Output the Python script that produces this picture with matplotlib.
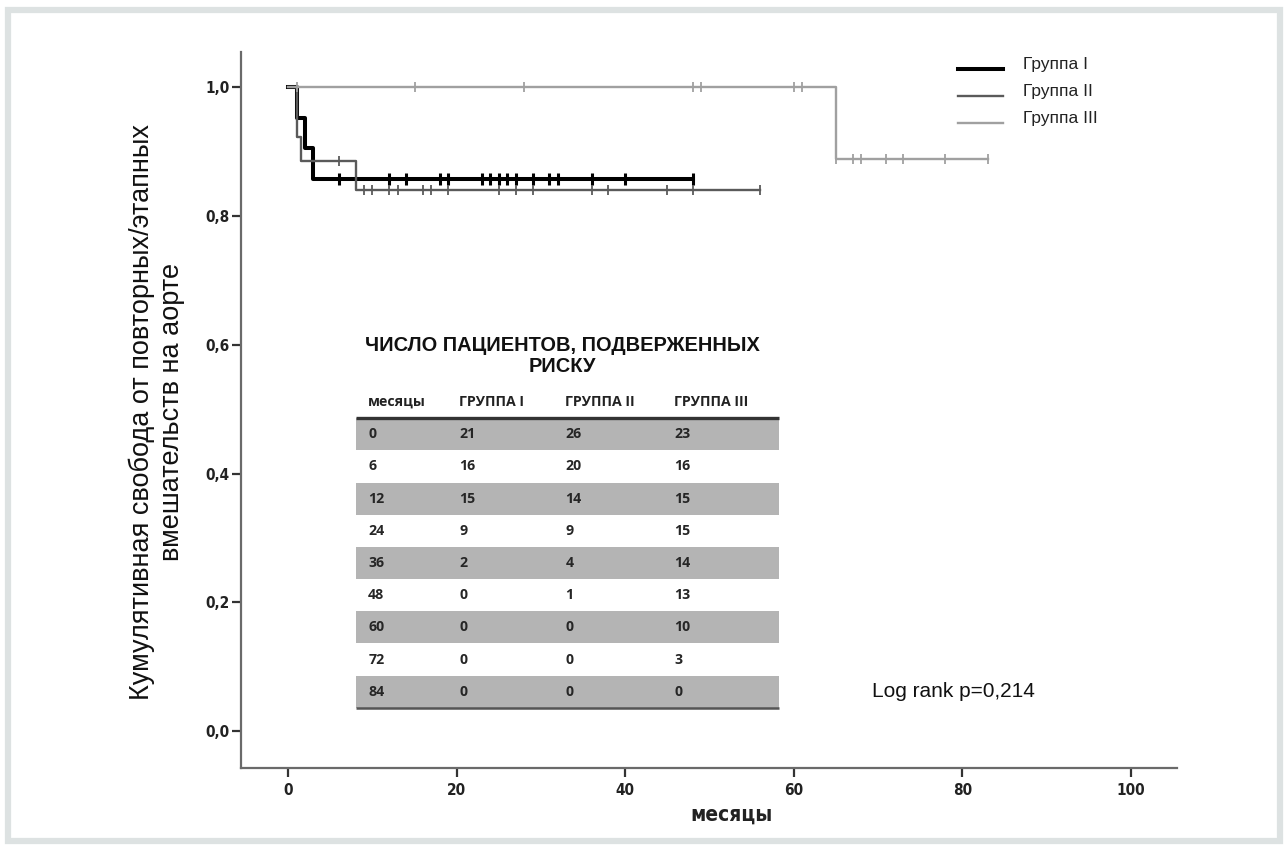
import matplotlib
matplotlib.use('Agg')
import matplotlib.pyplot as plt
import numpy as np
from matplotlib.patches import Rectangle
from matplotlib.legend_handler import HandlerLine2D

# ---------------- data ----------------
groups = ['Группа I', 'Группа II', 'Группа III']

g1_times = [0, 1, 2, 3]
g1_surv = [1.0, 0.952, 0.905, 0.857]
g1_end = 48
g1_cens = [6, 12, 14, 18, 19, 23, 24, 25, 26, 27, 29, 31, 32, 36, 40, 48]

g2_times = [0, 1, 1.5, 8]
g2_surv = [1.0, 0.923, 0.885, 0.841]
g2_end = 56
g2_cens = [6, 9, 10, 12, 13, 16, 17, 19, 25, 27, 29, 36, 38, 45, 48, 56]

g3_times = [0, 65]
g3_surv = [1.0, 0.889]
g3_end = 83
g3_cens = [1, 15, 28, 48, 49, 60, 61, 65, 67, 68, 71, 73, 78, 83]

risk_months = [0, 6, 12, 24, 36, 48, 60, 72, 84]
risk_g1 = [21, 16, 15, 9, 2, 0, 0, 0, 0]
risk_g2 = [26, 20, 14, 9, 4, 1, 0, 0, 0]
risk_g3 = [23, 16, 15, 15, 14, 13, 10, 3, 0]
table_headers = ['месяцы', 'ГРУППА I', 'ГРУППА II', 'ГРУППА III']
table_title = 'ЧИСЛО ПАЦИЕНТОВ, ПОДВЕРЖЕННЫХ\nРИСКУ'

xticks = [0, 20, 40, 60, 80, 100]
yticks = [0.0, 0.2, 0.4, 0.6, 0.8, 1.0]
ylabel = 'Кумулятивная свобода от повторных/этапных\nвмешательств на аорте'
xlabel = 'месяцы'
logrank = 'Log rank p=0,214'

# ---------------- figure ----------------
W, H = 1287, 848
fig = plt.figure(figsize=(W / 100, H / 100), dpi=100)
fig.patch.set_facecolor('white')

def fx(x):
    return x / W

def fy(y):
    return 1 - y / H

# light grey frame
fig.patches.append(Rectangle((fx(8), fy(840.5)), fx(1279.5) - fx(8), fy(10) - fy(840.5),
                             transform=fig.transFigure, fill=False,
                             edgecolor='#dde2e2', lw=4.5))

ax = fig.add_axes([fx(241), fy(768), fx(1176.7) - fx(241), fy(51.7) - fy(768)])
ax.set_xlim(-5.6, 105.45)
ax.set_ylim(-0.0575, 1.0553)

for s in ['top', 'right']:
    ax.spines[s].set_visible(False)
for s in ['left', 'bottom']:
    ax.spines[s].set_color('#6a6a6a')
    ax.spines[s].set_linewidth(1.6)

tick_font = dict(family='DejaVu Sans', stretch='condensed', weight='bold', size=11)
ax.set_xticks(xticks)
ax.set_xticklabels([str(v) for v in xticks], fontdict=tick_font, color='#222222')
ax.set_yticks(yticks)
ax.set_yticklabels([f'{v:.1f}'.replace('.', ',') for v in yticks], fontdict=tick_font, color='#222222')
ax.tick_params(axis='both', direction='out', length=6.5, width=1.6, color='#333333')
ax.tick_params(axis='x', pad=4)
ax.tick_params(axis='y', pad=2)

specs = [
    (g1_times, g1_surv, g1_end, g1_cens, '#000000', 2.9, 2.2, 8.0, 2),
    (g2_times, g2_surv, g2_end, g2_cens, '#5a5a5a', 1.7, 1.3, 7.5, 3),
    (g3_times, g3_surv, g3_end, g3_cens, '#a0a0a0', 1.7, 1.3, 7.5, 4),
]
handles = []
for (t, s, end, cens, col, lw, mew, ms, z), name in zip(specs, groups):
    xs = list(t) + [end]
    ys = list(s) + [s[-1]]
    ln, = ax.step(xs, ys, where='post', color=col, lw=lw, zorder=z, label=name)
    handles.append(ln)
    idx = np.searchsorted(np.asarray(t, float), np.asarray(cens, float), side='right') - 1
    cy = np.asarray(s)[idx]
    ax.plot(cens, cy, ls='none', marker='|', ms=ms, mew=mew, color=col, zorder=z)


class LowerLine(HandlerLine2D):
    """Legend line drawn a little below the label centre, as in the original."""
    def create_artists(self, legend, orig_handle, xdescent, ydescent, width, height,
                       fontsize, trans):
        arts = super().create_artists(legend, orig_handle, xdescent, ydescent, width,
                                      height, fontsize, trans)
        for a in arts:
            a.set_ydata(np.asarray(a.get_ydata(), float) - 4.5)
        return arts


leg = ax.legend(handles=handles, labels=groups, loc='upper left',
                bbox_to_anchor=(fx(958), fy(57)), bbox_transform=fig.transFigure,
                frameon=False, borderpad=0, borderaxespad=0,
                handlelength=2.6, handletextpad=1.15, labelspacing=0.68,
                handler_map={h: LowerLine() for h in handles},
                prop=dict(family='Liberation Sans', size=12.5))
for t in leg.get_texts():
    t.set_color('#222222')

# ---------------- risk table ----------------
tbl_left, tbl_right = 8.1, 58.2
tbl_top, row_h = 0.486, 0.050
col_x = [9.5, 20.3, 32.9, 45.8]
cell_font = dict(family='Open Sans', weight='bold', size=10.2)

ax.text(32.6, 0.582, table_title, ha='center', va='center', multialignment='center',
        fontsize=14.4, fontweight='bold', family='Liberation Sans', linespacing=1.12,
        color='#111111')
for cx, hd in zip(col_x, table_headers):
    ax.text(cx, 0.5116, hd, ha='left', va='center', color='#222222', **cell_font)

rows = list(zip(risk_months, risk_g1, risk_g2, risk_g3))
for i, row in enumerate(rows):
    y0 = tbl_top - (i + 1) * row_h
    if i % 2 == 0:
        ax.add_patch(Rectangle((tbl_left, y0), tbl_right - tbl_left, row_h,
                               facecolor='#b4b4b4', edgecolor='none', zorder=1))
    for cx, v in zip(col_x, row):
        ax.text(cx, y0 + row_h / 2, str(v), ha='left', va='center',
                color='#262626', zorder=2, **cell_font)
ax.plot([tbl_left, tbl_right], [tbl_top, tbl_top], color='#333333', lw=2.4, zorder=2,
        solid_capstyle='butt')
ax.plot([tbl_left, tbl_right], [tbl_top - 9 * row_h] * 2, color='#555555', lw=1.8, zorder=2,
        solid_capstyle='butt')

ax.text(69.3, 0.061, logrank, ha='left', va='center', fontsize=15,
        family='Liberation Sans', color='#111111')

# ---------------- axis labels ----------------
fig.text(fx(157), fy(412), ylabel, rotation=90, ha='center', va='center',
         multialignment='center', fontsize=19.5, family='Liberation Sans',
         linespacing=1.22, color='#111111')
fig.text(fx(731), fy(815), xlabel, ha='center', va='center',
         family='DejaVu Sans', stretch='condensed', weight='bold', fontsize=15,
         color='#222222')

fig.savefig('out.png', dpi=100)
